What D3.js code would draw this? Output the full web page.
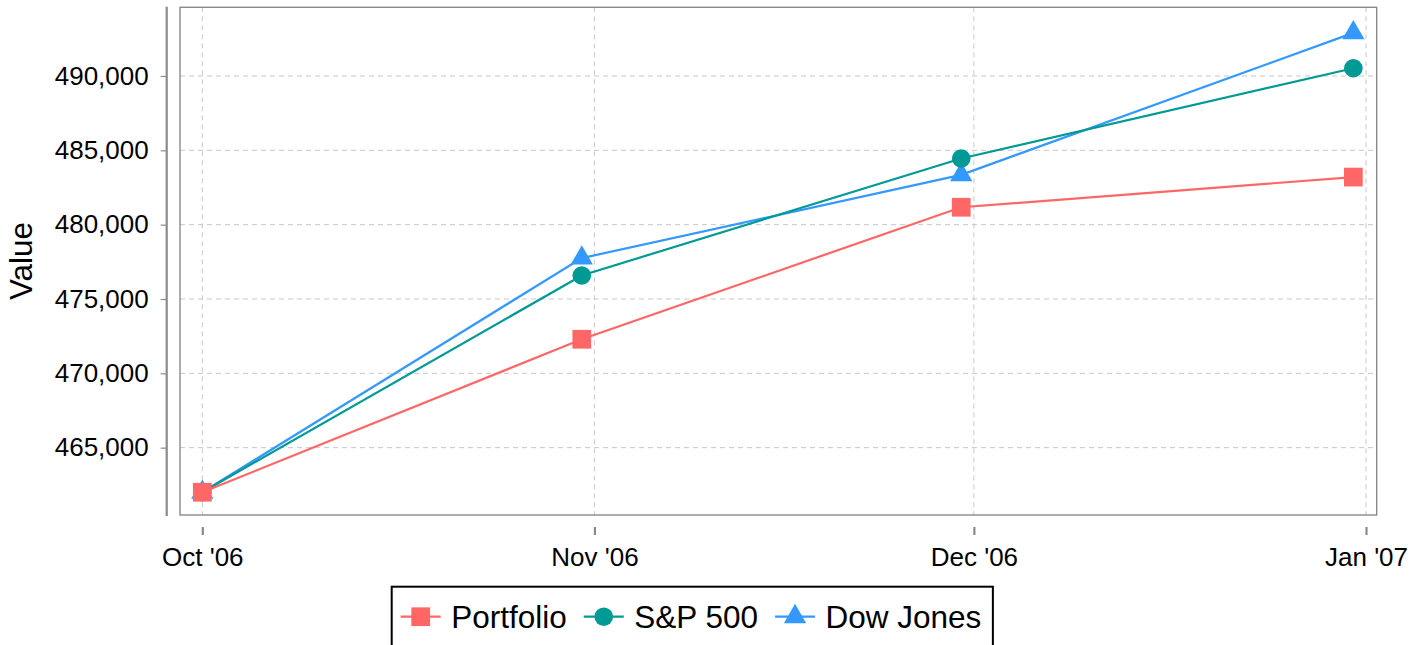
<!DOCTYPE html>
<html>
<head>
<meta charset="utf-8">
<script src="https://cdn.jsdelivr.net/npm/d3@7"></script>
<style>
  html, body { margin: 0; padding: 0; background: #fff; }
  svg { display: block; font-family: "Liberation Sans", Arial, Helvetica, sans-serif; }
</style>
</head>
<body>
<svg id="chart" width="1425" height="645"></svg>
<script>
// ---- data ----
const dates = ["2006-10-01", "2006-10-31", "2006-11-30", "2006-12-31"];
const seriesNames = ["Portfolio", "S&P 500", "Dow Jones"];
const portfolio = [462000, 472290, 481170, 483200];
const sp500 = [462000, 476580, 484450, 490520];
const dowJones = [462000, 477750, 483350, 492900];
const yTickValues = [465000, 470000, 475000, 480000, 485000, 490000];
const xTickDates = ["2006-10-01", "2006-11-01", "2006-12-01", "2007-01-01"];
const seriesColors = ["#ff6666", "#009a94", "#3399ff"];
const seriesShapes = ["square", "circle", "triangle"];

const parse = d3.timeParse("%Y-%m-%d");
const seriesValues = [portfolio, sp500, dowJones];
const series = seriesNames.map((name, i) => ({
  name, color: seriesColors[i], shape: seriesShapes[i],
  points: dates.map((d, j) => ({ date: parse(d), value: seriesValues[i][j] }))
}));

// ---- layout ----
const svg = d3.select("#chart");
const panel = { left: 180, right: 1376.7, top: 7.3, bottom: 515 };

const x = d3.scaleTime()
  .domain([parse("2006-10-01"), parse("2007-01-01")])
  .range([202.3, 1366]);
const y = d3.scaleLinear()
  .domain([460470, 494620])
  .range([panel.bottom, panel.top]);

const symbolType = { square: d3.symbolSquare, circle: d3.symbolCircle, triangle: d3.symbolTriangle };
const symbolSize = { square: 350, circle: 272, triangle: 215 };
const sym = s => d3.symbol().type(symbolType[s]).size(symbolSize[s])();

// grid
const grid = svg.append("g");
grid.selectAll("line.h").data(yTickValues).join("line")
  .attr("x1", panel.left).attr("x2", panel.right)
  .attr("y1", d => y(d)).attr("y2", d => y(d))
  .attr("stroke", "#c8c8c8").attr("stroke-width", 1).attr("stroke-dasharray", "5,4");
grid.selectAll("line.v").data(xTickDates.map(parse)).join("line")
  .attr("x1", d => x(d)).attr("x2", d => x(d))
  .attr("y1", panel.top).attr("y2", panel.bottom)
  .attr("stroke", "#c8c8c8").attr("stroke-width", 1).attr("stroke-dasharray", "5,4");

// panel border
svg.append("rect")
  .attr("x", panel.left).attr("y", panel.top)
  .attr("width", panel.right - panel.left).attr("height", panel.bottom - panel.top)
  .attr("fill", "none").attr("stroke", "#8a8a8a").attr("stroke-width", 1.4);

// y axis
const yAxis = d3.axisLeft(y).tickValues(yTickValues).tickSize(6).tickPadding(12)
  .tickFormat(d3.format(","));
const yg = svg.append("g").attr("transform", "translate(166.7,0)").call(yAxis);
yg.select(".domain").remove();
yg.append("line").attr("x1", 0).attr("x2", 0).attr("y1", 6.7).attr("y2", 516)
  .attr("stroke", "#8a8a8a").attr("stroke-width", 2.2);
yg.selectAll(".tick line").attr("stroke", "#8a8a8a").attr("stroke-width", 1.2);
yg.selectAll(".tick text").attr("font-size", 26).attr("fill", "#000")
  .attr("font-family", "Liberation Sans, Arial, sans-serif");

// x axis
const xAxis = d3.axisBottom(x).tickValues(xTickDates.map(parse)).tickSize(8).tickPadding(13)
  .tickFormat(d3.timeFormat("%b '%y"));
const xg = svg.append("g").attr("transform", "translate(0,527)").call(xAxis);
xg.select(".domain").remove();
xg.selectAll(".tick line").attr("stroke", "#8a8a8a").attr("stroke-width", 2.2);
xg.selectAll(".tick text").attr("font-size", 26).attr("fill", "#000")
  .attr("font-family", "Liberation Sans, Arial, sans-serif");

// y title
svg.append("text")
  .attr("transform", "translate(32,261) rotate(-90)")
  .attr("text-anchor", "middle")
  .attr("font-size", 31.5).attr("fill", "#000")
  .text("Value");

// series (draw Dow first so Portfolio ends on top)
const line = d3.line().x(d => x(d.date)).y(d => y(d.value));
const plot = svg.append("g");
series.slice().reverse().forEach(s => {
  const g = plot.append("g");
  g.append("path").datum(s.points).attr("d", line)
    .attr("fill", "none").attr("stroke", s.color).attr("stroke-width", 2.2);
  g.selectAll("path.m").data(s.points).join("path")
    .attr("class", "m")
    .attr("transform", d => `translate(${x(d.date)},${y(d.value)})`)
    .attr("d", sym(s.shape)).attr("fill", s.color);
});

// legend
const legend = svg.append("g");
const legY = 616.7;
let cx = 400.7;
const box = legend.append("rect");
series.forEach(s => {
  const item = legend.append("g");
  item.append("line").attr("x1", cx).attr("x2", cx + 40).attr("y1", legY).attr("y2", legY)
    .attr("stroke", s.color).attr("stroke-width", 2.2);
  item.append("path").attr("transform", `translate(${cx + 20},${legY})`)
    .attr("d", sym(s.shape)).attr("fill", s.color);
  const t = item.append("text").attr("x", cx + 50.5).attr("y", 628.3)
    .attr("font-size", 31.5).attr("fill", "#000").text(s.name);
  const w = t.node().getComputedTextLength();
  cx = cx + 50.5 + w + 17;
});
const boxRight = cx - 17 + 11.5;
box.attr("x", 391.7).attr("y", 586.7).attr("width", boxRight - 391.7).attr("height", 80)
  .attr("fill", "#fff").attr("stroke", "#000").attr("stroke-width", 2);
</script>
</body>
</html>
